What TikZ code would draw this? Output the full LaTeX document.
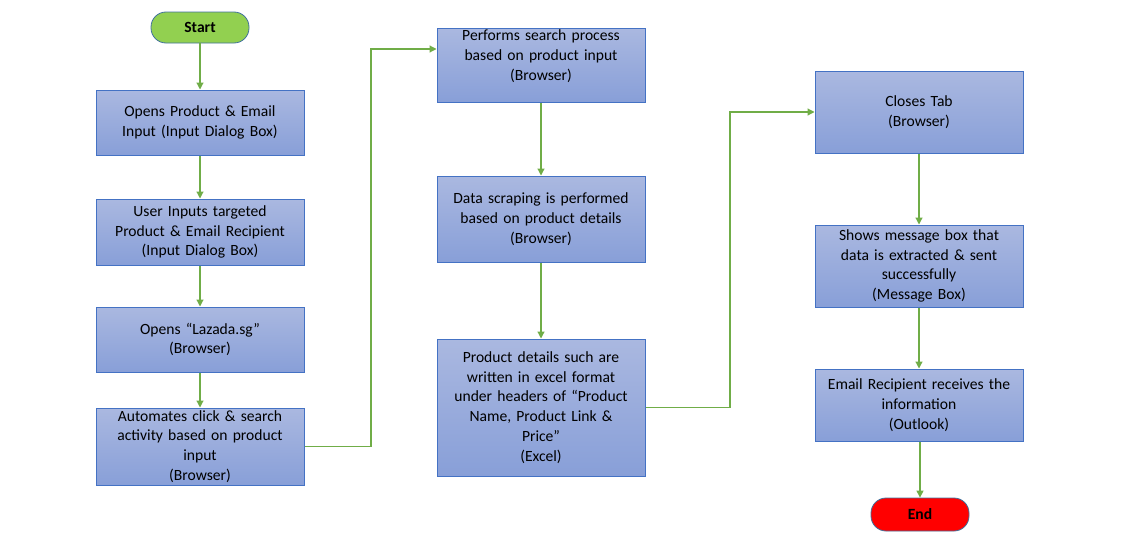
\documentclass[tikz,border=0pt]{standalone}
\usepackage{fontspec}
\setmainfont{Carlito}
\usetikzlibrary{arrows.meta}
\definecolor{boxline}{HTML}{4472C4}
\definecolor{boxtop}{HTML}{AAB8E0}
\definecolor{boxbot}{HTML}{889FD8}
\definecolor{flowgreen}{HTML}{70AD47}
\definecolor{startgreen}{HTML}{92D050}
\definecolor{termline}{HTML}{41719C}

\begin{document}
\begin{tikzpicture}[x=1pt,y=-1pt,
  procbox/.style={draw=boxline,line width=1pt,top color=boxtop,bottom color=boxbot,
    minimum width=208pt,text width=204pt,align=center,inner sep=0pt,
    font=\fontsize{15.6}{19.7}\selectfont},
  terminal/.style={draw=termline,line width=0.8pt,rounded corners=15pt,
    minimum width=98pt,inner sep=0pt,font=\fontsize{15.6}{20}\selectfont\bfseries},
  flowline/.style={draw=flowgreen,line width=1.2pt,-{Triangle[width=7pt,length=7pt]}}]
  \useasboundingbox (0,0) rectangle (1130,538);

  % first column
  \node[terminal,fill=startgreen,minimum height=31pt] (start) at (200,27.5) {Start};
  \node[procbox,minimum height=65pt] (open) at (200,122.5) {Opens Product \& Email\\Input (Input Dialog Box)};
  \node[procbox,minimum height=66pt] (userin) at (200,232) {User Inputs targeted\\Product \& Email Recipient\\(Input Dialog Box)};
  \node[procbox,minimum height=65pt] (lazada) at (200,339.5) {Opens “Lazada.sg”\\(Browser)};
  \node[procbox,minimum height=77pt] (click) at (200,446.5) {Automates click \& search\\activity based on product\\input\\(Browser)};

  % second column
  \node[procbox,minimum height=74pt] (search) at (541,65) {Performs search process\\based on product input\\(Browser)\\\mbox{}};
  \node[procbox,minimum height=86pt] (scrape) at (541,219) {Data scraping is performed\\based on product details\\(Browser)};
  \node[procbox,minimum height=137pt] (excel) at (541,407.5) {Product details such are\\written in excel format\\under headers of “Product\\Name, Product Link \&\\Price”\\(Excel)};

  % third column
  \node[procbox,minimum height=82pt] (close) at (919,112) {Closes Tab\\(Browser)};
  \node[procbox,minimum height=82pt] (msg) at (919,266) {Shows message box that\\data is extracted \& sent\\successfully\\(Message Box)};
  \node[procbox,minimum height=72pt] (mail) at (919,405) {Email Recipient receives the\\information\\(Outlook)};
  \node[terminal,fill=red,minimum height=33pt] (end) at (920,514.5) {End};

  % connectors
  \draw[flowline] (start) -- (open);
  \draw[flowline] (open) -- (userin);
  \draw[flowline] (userin) -- (lazada);
  \draw[flowline] (lazada) -- (click);
  \coordinate (jumpA) at (371,49);
  \draw[flowline] (click.east) -| (jumpA) -- (jumpA -| search.west);
  \draw[flowline] (search) -- (scrape);
  \draw[flowline] (scrape) -- (excel);
  \coordinate (jumpB) at (730,112);
  \draw[flowline] (excel.east) -| (jumpB) -- (close.west);
  \draw[flowline] (close) -- (msg);
  \draw[flowline] (msg) -- (mail);
  \draw[flowline] (mail.south -| end) -- (end);
\end{tikzpicture}
\end{document}
